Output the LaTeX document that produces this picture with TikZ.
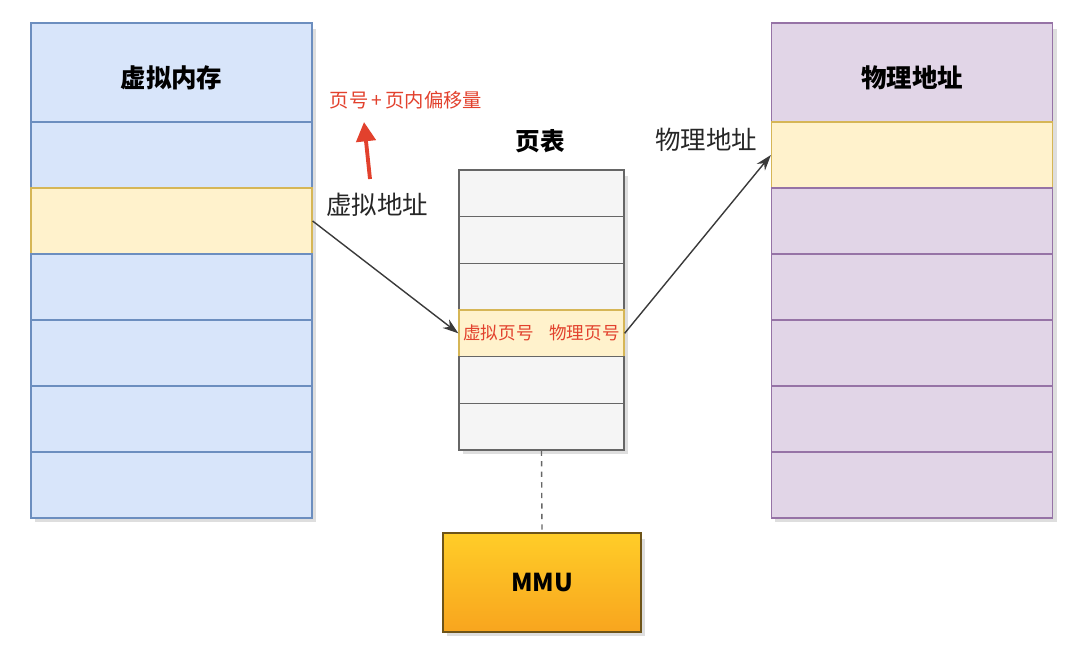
\documentclass[tikz,border=0pt]{standalone}
\usepackage{fontspec}
\usetikzlibrary{arrows.meta}
\newfontfamily\cjk{Noto Sans CJK SC}
\definecolor{vblue1}{HTML}{D8E5FA}
\definecolor{vblue2}{HTML}{6C8EBF}
\definecolor{pyellow1}{HTML}{FFF2CC}
\definecolor{pyellow2}{HTML}{D6B656}
\definecolor{ppurple1}{HTML}{E1D5E7}
\definecolor{ppurple2}{HTML}{9673A6}
\definecolor{tgray1}{HTML}{F5F5F5}
\definecolor{tgray2}{HTML}{666666}
\definecolor{mmuorange1}{HTML}{FFCD28}
\definecolor{mmuorange2}{HTML}{F8A51E}
\definecolor{mmuedge}{HTML}{6E5418}
\definecolor{notered}{HTML}{E2412D}
\definecolor{arrowgray}{HTML}{3A3A3A}
\tikzset{
  cell/.style={draw, line width=0.7pt, inner sep=0pt, minimum width=5.62cm, minimum height=1.32cm},
  vcell/.style={cell, fill=vblue1, draw=vblue2},
  pcell/.style={cell, fill=ppurple1, draw=ppurple2},
  ycell/.style={cell, fill=pyellow1, draw=pyellow2},
  tcell/.style={draw=tgray2, fill=tgray1, line width=0.7pt, inner sep=0pt, minimum width=3.30cm, minimum height=0.9333cm},
  headtext/.style={font=\cjk\bfseries\fontsize{14.5}{16}\selectfont},
  plaintext/.style={font=\cjk\fontsize{14.5}{16}\selectfont, text=black!85},
  link/.style={draw=arrowgray, line width=0.8pt, -{Stealth[length=9pt,width=6pt]}},
  shade/.style={fill=black!13}
}
\begin{document}
\begin{tikzpicture}
\useasboundingbox (0,0) rectangle (21.38,-13.16);
% shadows
\fill[shade] (0.70,-0.58) rectangle (6.32,-10.44);
\fill[shade] (15.50,-0.58) rectangle (21.14,-10.44);
\fill[shade] (9.26,-3.52) rectangle (12.56,-9.08);
\fill[shade] (8.94,-10.78) rectangle (12.90,-12.72);
% virtual memory
\node[vcell, minimum height=1.98cm] (v0) at (3.43,-1.45) {};
\node[headtext] (vtitle) at (3.43,-1.55) {虚拟内存};
\node[vcell] (v1) at (3.43,-3.10) {};
\node[ycell] (v2) at (3.43,-4.42) {};
\node[vcell] (v3) at (3.43,-5.74) {};
\node[vcell] (v4) at (3.43,-7.06) {};
\node[vcell] (v5) at (3.43,-8.38) {};
\node[vcell] (v6) at (3.43,-9.70) {};
% physical memory
\node[pcell, minimum height=1.98cm] (p0) at (18.24,-1.45) {};
\node[headtext] (ptitle) at (18.24,-1.55) {物理地址};
\node[ycell] (p1) at (18.24,-3.10) {};
\node[pcell] (p2) at (18.24,-4.42) {};
\node[pcell] (p3) at (18.24,-5.74) {};
\node[pcell] (p4) at (18.24,-7.06) {};
\node[pcell] (p5) at (18.24,-8.38) {};
\node[pcell] (p6) at (18.24,-9.70) {};
% page table
\node[headtext, font=\cjk\bfseries\fontsize{14}{16}\selectfont] (ttitle) at (10.80,-2.82) {页表};
\node[tcell] (t0) at (10.83,-3.8667) {};
\node[tcell] (t1) at (10.83,-4.80) {};
\node[tcell] (t2) at (10.83,-5.7333) {};
\node[tcell, fill=pyellow1, draw=pyellow2, text=notered, font=\cjk\fontsize{10}{12}\selectfont] (t3) at (10.83,-6.6667) {虚拟页号\hspace{0.9em}物理页号};
\node[tcell] (t4) at (10.83,-7.60) {};
\node[tcell] (t5) at (10.83,-8.5333) {};
% mmu
\node[draw=mmuedge, line width=0.8pt, top color=mmuorange1, bottom color=mmuorange2, minimum width=3.96cm, minimum height=1.98cm, font=\cjk\bfseries\fontsize{14}{16}\selectfont] (mmu) at (10.84,-11.65) {MMU};
% labels
\node[plaintext] (vaddr) at (7.54,-4.10) {虚拟地址};
\node[plaintext] (paddr) at (14.12,-2.80) {物理地址};
\node[text=notered, font=\cjk\fontsize{11}{13}\selectfont] (offset) at (8.12,-2.00) {页号\,+\,页内偏移量};
\coordinate (redtail) at (7.40,-3.58);
\coordinate (redtip) at (7.28,-2.44);
% connectors
\draw[link] (v2.east) -- (t3.west);
\draw[link] (t3.east) -- (p1.west);
\draw[tgray2, line width=0.8pt, dashed] (t5.south) -- (mmu.north);
\draw[notered, line width=2.2pt, -{Triangle[length=11pt,width=11pt]}] (redtail) -- (redtip);
\end{tikzpicture}
\end{document}
